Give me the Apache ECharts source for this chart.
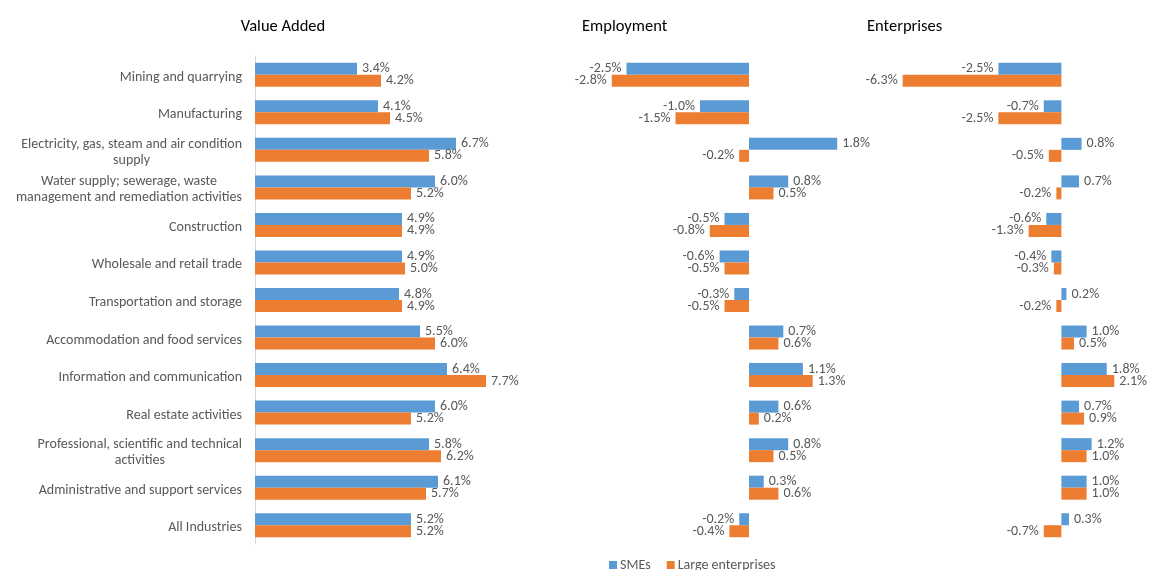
<!DOCTYPE html>
<html>
<head>
<meta charset="utf-8">
<script src="https://cdn.jsdelivr.net/npm/echarts@6/dist/echarts.min.js"></script>
<style>
  html, body { margin: 0; padding: 0; background: #fff; }
  #main { width: 1153px; height: 570px; }
</style>
</head>
<body>
<div id="main"></div>
<script>
const categories = [
  "Mining and quarrying",
  "Manufacturing",
  "Electricity, gas, steam and air condition\nsupply",
  "Water supply; sewerage, waste\nmanagement and remediation activities",
  "Construction",
  "Wholesale and retail trade",
  "Transportation and storage",
  "Accommodation and food services",
  "Information and communication",
  "Real estate activities",
  "Professional, scientific and technical\nactivities",
  "Administrative and support services",
  "All Industries"
];

// 增加值
const valueAddedSme = [3.4, 4.1, 6.7, 6.0, 4.9, 4.9, 4.8, 5.5, 6.4, 6.0, 5.8, 6.1, 5.2];
const valueAddedLarge = [4.2, 4.5, 5.8, 5.2, 4.9, 5.0, 4.9, 6.0, 7.7, 5.2, 6.2, 5.7, 5.2];
// 就业
const employmentSme = [-2.5, -1.0, 1.8, 0.8, -0.5, -0.6, -0.3, 0.7, 1.1, 0.6, 0.8, 0.3, -0.2];
const employmentLarge = [-2.8, -1.5, -0.2, 0.5, -0.8, -0.5, -0.5, 0.6, 1.3, 0.2, 0.5, 0.6, -0.4];
// 企业数
const enterprisesSme = [-2.5, -0.7, 0.8, 0.7, -0.6, -0.4, 0.2, 1.0, 1.8, 0.7, 1.2, 1.0, 0.3];
const enterprisesLarge = [-6.3, -2.5, -0.5, -0.2, -1.3, -0.3, -0.2, 0.5, 2.1, 0.9, 1.0, 1.0, -0.7];

const titles = ["Value Added", "Employment", "Enterprises"];
const blue = "#5B9BD5";
const orange = "#ED7D31";
const textColor = "#595959";
const font = "Carlito, 'Liberation Sans Narrow', 'Liberation Sans', sans-serif";

const gridTop = 56;
const gridHeight = 488;

function toData(arr) {
  return arr.map((v) => {
    return {
      value: v,
      label: { position: v < 0 ? "left" : "right" }
    };
  });
}

function makeSeries(name, color, data, idx) {
  return {
    name: name,
    type: "bar",
    xAxisIndex: idx,
    yAxisIndex: idx,
    data: toData(data),
    barWidth: 12,
    barGap: "0%",
    itemStyle: { color: color },
    label: {
      show: true,
      distance: 5,
      color: textColor,
      fontSize: 14,
      fontFamily: font,
      padding: [3, 0, 0, 0],
      formatter: (p) => p.value.toFixed(1) + "%"
    }
  };
}

const chart = echarts.init(document.getElementById("main"), null, { renderer: "canvas" });

const titleStyle = { fontSize: 16.5, fontWeight: "normal", color: "#000", fontFamily: font };

const option = {
  animation: false,
  textStyle: { fontFamily: font },
  title: [
    { text: titles[0], left: 283, top: 18, textAlign: "center", padding: 0, textStyle: titleStyle },
    { text: titles[1], left: 582, top: 18, padding: 0, textStyle: titleStyle },
    { text: titles[2], left: 867, top: 18, padding: 0, textStyle: titleStyle }
  ],
  legend: {
    data: ["SMEs", "Large enterprises"],
    left: 604,
    top: 553,
    itemWidth: 8,
    itemHeight: 8,
    itemGap: 16,
    icon: "rect",
    textStyle: { fontSize: 14, color: textColor, fontFamily: font, padding: [0, 0, 0, -2] }
  },
  grid: [
    { left: 255, top: gridTop, width: 270, height: gridHeight },
    { left: 602, top: gridTop, width: 245, height: gridHeight },
    { left: 885, top: gridTop, width: 252, height: gridHeight }
  ],
  xAxis: [
    { type: "value", gridIndex: 0, min: 0, max: 9, show: false },
    { type: "value", gridIndex: 1, min: -3, max: 2, show: false },
    { type: "value", gridIndex: 2, min: -7, max: 3, show: false }
  ],
  yAxis: [0, 1, 2].map((i) => {
    return {
      type: "category",
      gridIndex: i,
      data: categories,
      inverse: true,
      axisTick: { show: false },
      axisLine: { show: i === 0, lineStyle: { color: "#D9D9D9" } },
      splitLine: { show: false },
      axisLabel: {
        show: i === 0,
        margin: 13,
        fontSize: 14,
        color: textColor,
        fontFamily: font,
        lineHeight: 16,
        padding: [5, 0, 0, 0],
        formatter: (v) => v.split("\n").map((l) => "{c|" + l + "}").join("\n"),
        rich: { c: { align: "center", fontSize: 14, color: textColor, fontFamily: font, lineHeight: 16 } }
      }
    };
  }),
  series: [
    makeSeries("SMEs", blue, valueAddedSme, 0),
    makeSeries("Large enterprises", orange, valueAddedLarge, 0),
    makeSeries("SMEs", blue, employmentSme, 1),
    makeSeries("Large enterprises", orange, employmentLarge, 1),
    makeSeries("SMEs", blue, enterprisesSme, 2),
    makeSeries("Large enterprises", orange, enterprisesLarge, 2)
  ]
};

chart.setOption(option);
</script>
</body>
</html>
